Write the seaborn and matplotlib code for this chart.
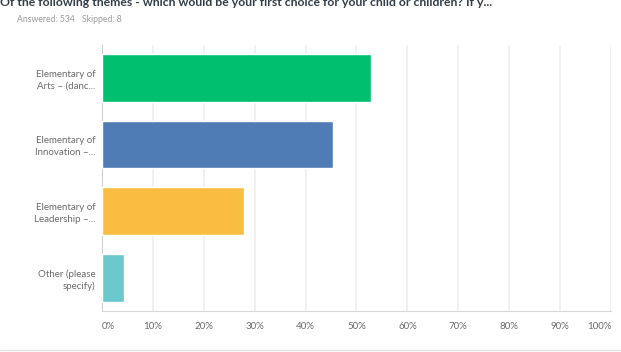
import matplotlib
matplotlib.use("Agg")
import matplotlib.pyplot as plt
import seaborn as sns
import pandas as pd

# data
categories = ["Elementary of\nArts – (danc...", "Elementary of\nInnovation –...",
              "Elementary of\nLeadership –...", "Other (please\nspecify)"]
percent = [52.8, 45.4, 27.9, 4.4]
colors = ["#00BF6F", "#507CB6", "#F9BE41", "#6BC8CD"]
xticks = list(range(0, 101, 10))
title = "Of the following themes - which would be your first choice for your child or children? If y..."
answered = "Answered: 534"
skipped = "Skipped: 8"

sns.set_style("white")
plt.rcParams["font.family"] = ["Lato", "DejaVu Sans"]

df = pd.DataFrame({"category": categories, "percent": percent})

fig = plt.figure(figsize=(6.21, 3.52), dpi=100)
ax = fig.add_axes([0.164, 0.1165, 0.82, 0.757])

sns.barplot(data=df, x="percent", y="category", hue="category", palette=colors,
            legend=False, width=0.716, saturation=1, ax=ax, zorder=3)

ax.set_xlim(0, 100)
ax.set_ylim(3.5, -0.5)
ax.set_xticks(xticks)
ax.set_xticklabels([f"{t}%" for t in xticks])
ax.set_xlabel("")
ax.set_ylabel("")
ax.grid(axis="x", color="#efefef", linewidth=1.2, zorder=0)
ax.grid(axis="y", visible=False)
for s in ["top", "right"]:
    ax.spines[s].set_visible(False)
ax.spines["left"].set_color("#d0d0d0")
ax.spines["bottom"].set_color("#d8d8d8")
ax.tick_params(axis="both", length=0, labelsize=7, labelcolor="#6b6b6b")
ax.tick_params(axis="x", pad=8)
ax.tick_params(axis="y", pad=4.5)
xl = ax.get_xticklabels()
xl[0].set_horizontalalignment("left")
xl[-1].set_horizontalalignment("right")
for lbl in ax.get_yticklabels():
    lbl.set_horizontalalignment("right")
    lbl.set_multialignment("right")
    lbl.set_linespacing(1.4)

fig.text(0.0, 1 - 6 / 352, title, fontsize=8.8, fontweight="bold", color="#333e48",
         va="baseline", ha="left")
fig.text(17 / 621, 1 - 20 / 352, answered, fontsize=6.2, color="#9a9a9a", va="center")
fig.text(82 / 621, 1 - 20 / 352, skipped, fontsize=6.2, color="#9a9a9a", va="center")
fig.add_artist(plt.Line2D([0, 1], [1 - 349.5 / 352] * 2, color="#e3e3e3", linewidth=1))

fig.savefig("out.png", dpi=100)
